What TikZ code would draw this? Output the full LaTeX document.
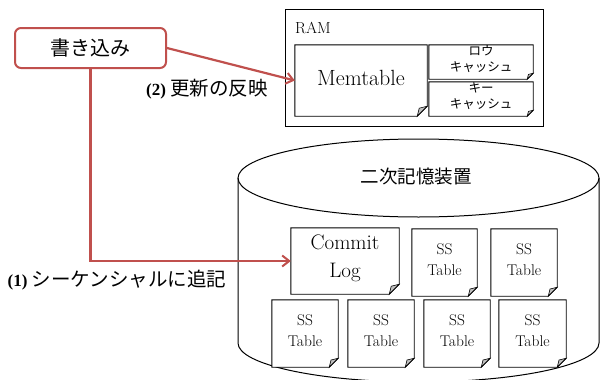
\documentclass[tikz,border=0pt]{standalone}
\usepackage{fontspec}
\newfontfamily\jp{Noto Sans CJK JP}
\newfontfamily\tnr{Liberation Serif}
\usetikzlibrary{arrows.meta,calc}
\definecolor{wred}{HTML}{C0504D}
\tikzset{
  docnode/.style={draw=none,inner sep=0pt,align=center},
  docline/.style={draw=black,line width=0.9pt,fill=white},
  foldfill/.style={draw=black,line width=0.6pt,fill=black!25},
  redline/.style={draw=wred,line width=2.2pt},
  redarrow/.style={redline,-{Straight Barb[length=7pt,width=11pt,line width=2pt]}},
}
% name, x, y, width, height, text, font, fold
\newcommand\docbox[8]{%
  \node[docnode,minimum width=#4pt,minimum height=#5pt] (#1) at (#2,#3) {};
  \draw[docline] (#1.north west) -- (#1.north east) -- ($(#1.south east)+(0,-#8)$)
     -- ($(#1.south east)+(-#8,0)$) -- (#1.south west) -- cycle;
  \draw[foldfill] ($(#1.south east)+(0,-#8)$) -- ($(#1.south east)+(-#8,0)$)
     -- ($(#1.south east)+(-0.8*#8,-0.8*#8)$) -- cycle;
  \node[docnode,font=#7] at ($(#1.center)+(0,-3)$) {#6};
}
\begin{document}
\begin{tikzpicture}[x=1pt,y=-1pt]
\useasboundingbox (0,0) rectangle (600,380);
\begin{scope}
\clip (0,0) rectangle (600,380);
% cylinder
\draw[line width=1pt,fill=white] (238,178) -- (238,343) arc[start angle=180,end angle=360,x radius=180.5,y radius=-39] -- (599,178);
\draw[line width=1pt] (418.5,178) ellipse[x radius=180.5,y radius=39];
\end{scope}
\node[font=\jp\fontsize{18.5}{20}\selectfont] (storage) at (416,177) {二次記憶装置};

% RAM
\node[draw,line width=0.9pt,minimum width=258pt,minimum height=117pt,inner sep=0pt] (ram) at (414,67.5) {};
\node[anchor=base west,inner sep=0pt,font=\fontsize{16}{18}\selectfont] (ramlabel) at (295,34) {RAM};

\docbox{mem}{361}{80.5}{132}{71}{Memtable}{\fontsize{22}{24}\selectfont}{10}
\docbox{rowc}{481}{62}{104}{34}{ロウ\\キャッシュ}{\jp\fontsize{12.5}{16}\selectfont}{6}
\docbox{keyc}{481}{99}{104}{34}{キー\\キャッシュ}{\jp\fontsize{12.5}{16}\selectfont}{6}

\docbox{commit}{345}{261}{108}{66}{Commit\\Log}{\fontsize{21}{28}\selectfont}{10}
\docbox{ssa}{444.5}{262.5}{65}{67}{SS\\Table}{\fontsize{15.5}{21}\selectfont}{9}
\docbox{ssb}{524}{262.5}{66}{67}{SS\\Table}{\fontsize{15.5}{21}\selectfont}{9}
\docbox{ssc}{305}{333.5}{66}{67}{SS\\Table}{\fontsize{15.5}{21}\selectfont}{9}
\docbox{ssd}{381}{333.5}{66}{67}{SS\\Table}{\fontsize{15.5}{21}\selectfont}{9}
\docbox{sse}{457}{333.5}{66}{67}{SS\\Table}{\fontsize{15.5}{21}\selectfont}{9}
\docbox{ssf}{532.5}{333.5}{67}{67}{SS\\Table}{\fontsize{15.5}{21}\selectfont}{9}

% write box
\node[draw=wred,line width=2pt,rounded corners=6pt,fill=white,minimum width=151pt,minimum height=40pt,inner sep=0pt,font=\jp\fontsize{20}{22}\selectfont] (write) at (90.5,48) {書き込み};

% connectors
\draw[redarrow] (write.east) -- (mem.west);
\draw[redarrow] (write.south) |- (commit.west);

% labels
\node[font=\jp\fontsize{19.5}{20}\selectfont] (lab2) at (207,89) {{\tnr\bfseries\fontsize{17}{18}\selectfont (2)} 更新の反映};
\node[font=\jp\fontsize{19.5}{20}\selectfont] (lab1) at (117,280) {{\tnr\bfseries\fontsize{17}{18}\selectfont (1)} シーケンシャルに追記};
\end{tikzpicture}
\end{document}
